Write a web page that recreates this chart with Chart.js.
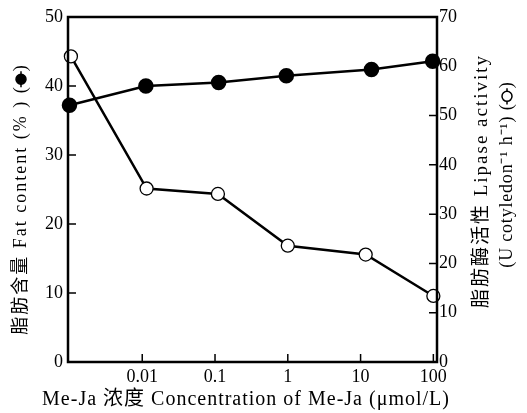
<!DOCTYPE html>
<html>
<head>
<meta charset="utf-8">
<script src="https://cdn.jsdelivr.net/npm/chart.js@4.4.0/dist/chart.umd.min.js"></script>
<style>
html,body{margin:0;padding:0;background:#fff;}
</style>
</head>
<body>
<canvas id="chart" width="527" height="413"></canvas>
<script>
// values
const concLabels = ['', '0.01', '0.1', '1', '10', '100'];
const concTicks = [1, 2, 3, 4, 5];
const fatX = [0, 1.05, 2.05, 2.98, 4.15, 4.99];
const fatContent = [37.2, 40.0, 40.5, 41.5, 42.4, 43.6];
const lipaseX = [0.02, 1.06, 2.04, 3.0, 4.07, 5.0];
const lipaseActivity = [62.0, 35.2, 34.1, 23.6, 21.8, 13.4];
const fatTicks = [0, 10, 20, 30, 40, 50];
const lipaseTicks = [0, 10, 20, 30, 40, 50, 60, 70];

const serif = "'Liberation Serif', 'Noto Sans CJK SC', serif";

// rotated title, optional (-o-) marker at the end
function drawTitle(ctx, text, cx, cy, font, spacing, symbol){
  ctx.save();
  ctx.translate(cx, cy);
  ctx.rotate(-Math.PI / 2);
  ctx.font = font;
  ctx.letterSpacing = spacing;
  ctx.textAlign = 'left';
  ctx.textBaseline = 'middle';
  const w = ctx.measureText(text).width;
  const symW = symbol ? 28 : 0;
  let x = -(w + symW) / 2;
  ctx.fillText(text, x, 0);
  if (symbol){
    x += w;
    ctx.letterSpacing = '0px';
    const pw = ctx.measureText('(').width;
    ctx.fillText('(', x, 0);
    ctx.fillText(')', x + symW - pw, 0);
    ctx.lineWidth = 1.5;
    ctx.beginPath();
    ctx.moveTo(x + pw, 0);
    ctx.lineTo(x + symW - pw, 0);
    ctx.stroke();
    ctx.beginPath();
    ctx.arc(x + symW / 2, 0, 5, 0, Math.PI * 2);
    ctx.fillStyle = symbol === 'filled' ? '#000' : '#fff';
    ctx.fill();
    ctx.stroke();
  }
  ctx.restore();
}

const frame = {
  id: 'frame',
  afterDraw(chart){
    const ctx = chart.ctx;
    const a = chart.chartArea;
    const sx = chart.scales.x, sy = chart.scales.y, sy1 = chart.scales.y1;
    ctx.save();
    ctx.strokeStyle = '#000';
    ctx.lineWidth = 2.5;
    ctx.strokeRect(a.left, a.top, a.right - a.left, a.bottom - a.top);
    // inward tick marks
    ctx.lineWidth = 1.5;
    ctx.beginPath();
    concTicks.forEach(v => {
      const x = sx.getPixelForValue(v);
      ctx.moveTo(x, a.bottom); ctx.lineTo(x, a.bottom - 8);
    });
    fatTicks.forEach(v => {
      const y = sy.getPixelForValue(v);
      ctx.moveTo(a.left, y); ctx.lineTo(a.left + 8, y);
    });
    lipaseTicks.forEach(v => {
      const y = sy1.getPixelForValue(v);
      ctx.moveTo(a.right, y); ctx.lineTo(a.right - 8, y);
    });
    ctx.stroke();

    // axis titles
    ctx.fillStyle = '#000';
    ctx.textAlign = 'center';
    ctx.textBaseline = 'middle';
    ctx.font = '20px ' + serif;
    ctx.letterSpacing = '1px';
    ctx.fillText('Me-Ja 浓度 Concentration of Me-Ja (\u03bcmol/L)', 246, 400);

    drawTitle(ctx, '脂肪含量 Fat content (% ) ', 21, 200, '18px ' + serif, '2px', 'filled');
    drawTitle(ctx, '脂肪酶活性 Lipase activity', 482, 181, '19px ' + serif, '2px', null);
    drawTitle(ctx, '(U cotyledon\u207b\u00b9 h\u207b\u00b9) ', 507, 175, '18px ' + serif, '0.8px', 'open');
    ctx.restore();
  }
};

const ctx = document.querySelector('#chart').getContext('2d');
const myChart = new Chart(ctx, {
  type: 'line',
  data: {
    datasets: [{
      label: 'Lipase activity',
      data: lipaseX.map((x, i) => ({x: x, y: lipaseActivity[i]})),
      yAxisID: 'y1',
      borderColor: '#000',
      borderWidth: 2.5,
      pointRadius: 6.5,
      pointBackgroundColor: '#fff',
      pointBorderColor: '#000',
      pointBorderWidth: 1.3,
      clip: false
    }, {
      label: 'Fat content',
      data: fatX.map((x, i) => ({x: x, y: fatContent[i]})),
      yAxisID: 'y',
      borderColor: '#000',
      borderWidth: 2.5,
      pointRadius: 6.5,
      pointBackgroundColor: '#000',
      pointBorderColor: '#000',
      clip: false
    }]
  },
  options: {
    responsive: false,
    animation: false,
    devicePixelRatio: 1,
    layout: {padding: {top: 17, left: 0, right: 0, bottom: 0}},
    plugins: {legend: {display: false}, tooltip: {enabled: false}},
    scales: {
      x: {
        type: 'linear',
        min: -0.02,
        max: 5.05,
        afterBuildTicks: s => { s.ticks = concTicks.map(v => ({value: v})); },
        afterFit: s => { s.height = 51; },
        grid: {display: false, drawTicks: false},
        border: {display: false},
        ticks: {
          callback: v => concLabels[v],
          color: '#000',
          padding: 4,
          maxRotation: 0,
          font: {family: serif, size: 18}
        }
      },
      y: {
        position: 'left',
        min: 0,
        max: 50,
        afterBuildTicks: s => { s.ticks = fatTicks.map(v => ({value: v})); },
        afterFit: s => { s.width = 68; },
        grid: {display: false, drawTicks: false},
        border: {display: false},
        ticks: {color: '#000', padding: 5, font: {family: serif, size: 18}}
      },
      y1: {
        position: 'right',
        min: 0,
        max: 70,
        afterBuildTicks: s => { s.ticks = lipaseTicks.map(v => ({value: v})); },
        afterFit: s => { s.width = 90; },
        grid: {display: false, drawTicks: false},
        border: {display: false},
        ticks: {color: '#000', padding: 2, font: {family: serif, size: 18}}
      }
    }
  },
  plugins: [frame]
});
</script>
</body>
</html>
